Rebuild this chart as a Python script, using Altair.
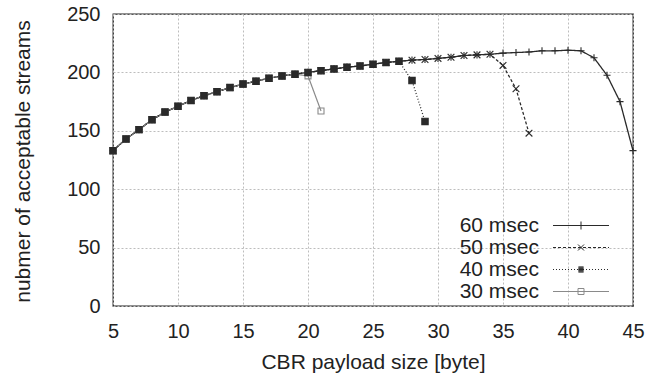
import altair as alt
import pandas as pd

FONT = "Liberation Sans"

series_names = ["60 msec", "50 msec", "40 msec", "30 msec"]
x_ticks = [5, 10, 15, 20, 25, 30, 35, 40, 45]
y_ticks = [0, 50, 100, 150, 200, 250]

payload = list(range(5, 46))
streams_60 = [133, 143, 151, 159.5, 166, 171, 176, 180, 183.5, 187,
              190, 192.5, 195, 197, 198.5, 200, 201.5, 203, 204.5, 205.5,
              207, 208.5, 209.5, 210.5, 211, 212, 213, 214.5, 215, 215.5,
              216.5, 217, 217.5, 218.5, 218.5, 219, 218.5, 212.5, 197.5, 175,
              133]
streams_50 = streams_60[:30] + [206, 186, 148]
streams_40 = streams_60[:23] + [193, 158]
streams_30 = streams_60[:15] + [197, 167]

rows = []
for name, ys in [("60 msec", streams_60), ("50 msec", streams_50),
                 ("30 msec", streams_30), ("40 msec", streams_40)]:
    for xv, yv in zip(payload, ys):
        rows.append({"series": name, "x": xv, "y": yv})
df = pd.DataFrame(rows)

# ---- legend sample symbols (line sample + marker); path units are R px each
R = 5.0          # sqrt(symbolSize) / 2
HALF = 28.0      # half length of the line sample, px


def px(v):
    return f"{v / R:.3f}"


def solid():
    return f"M{px(-HALF)},0H{px(HALF)}"


def dashed(dash, gap):
    parts, pos = [], -HALF
    while pos < HALF:
        end = min(pos + dash, HALF)
        parts.append(f"M{px(pos)},0H{px(end)}")
        pos = end + gap
    return "".join(parts)


plus_mark = f"M0,{px(-4)}V{px(4)}"
cross_mark = f"M{px(-3)},{px(-3)}L{px(3)},{px(3)}M{px(3)},{px(-3)}L{px(-3)},{px(3)}"
filled_sq = "".join(f"M{px(-2.6)},{px(v)}H{px(2.6)}" for v in [-2.6, -1.7, -0.85, 0, 0.85, 1.7, 2.6])
hollow_sq = f"M{px(-3)},{px(-3)}H{px(3)}V{px(3)}H{px(-3)}Z"
legend_paths = [
    solid() + plus_mark,
    dashed(3, 2) + cross_mark,
    dashed(1, 2) + filled_sq,
    solid() + hollow_sq,
]

line_colors = ["#2a2a2a", "#2a2a2a", "#2a2a2a", "#8a8a8a"]

grid_style = dict(grid=True, gridColor="#bdbdbd", gridDash=[2, 2], gridWidth=1, gridOpacity=1)

x_enc = alt.X(
    "x:Q",
    scale=alt.Scale(domain=[5, 45], nice=False, zero=False),
    axis=alt.Axis(values=x_ticks, title="CBR payload size [byte]", format="d",
                  ticks=False, tickSize=0, domain=False, labelFlush=False,
                  labelFont=FONT, labelFontSize=20, labelColor="#222",
                  labelBaseline="alphabetic", labelPadding=31,
                  titleFont=FONT, titleFontSize=21, titleFontWeight="normal",
                  titleColor="#222", titleX=260, titleY=62,
                  titleBaseline="alphabetic", titleAlign="center", **grid_style),
)
y_enc = alt.Y(
    "y:Q",
    scale=alt.Scale(domain=[0, 250], nice=False),
    axis=alt.Axis(values=y_ticks, title="nubmer of acceptable streams",
                  ticks=False, tickSize=0, domain=False, labelFlush=False,
                  labelFont=FONT, labelFontSize=20, labelColor="#222",
                  labelPadding=13,
                  titleFont=FONT, titleFontSize=21, titleFontWeight="normal",
                  titleColor="#222", titleAngle=270, titleX=-84, titleY=147,
                  titleBaseline="alphabetic", titleAlign="center", **grid_style),
)

lines = alt.Chart(df).mark_line(interpolate="linear").encode(
    x=x_enc,
    y=y_enc,
    detail="series:N",
    color=alt.Color("series:N", scale=alt.Scale(domain=series_names, range=line_colors), legend=None),
    strokeDash=alt.StrokeDash("series:N", scale=alt.Scale(domain=series_names,
                              range=[[1, 0], [3, 2], [1, 2], [1, 0]]), legend=None),
    strokeWidth=alt.StrokeWidth("series:N", scale=alt.Scale(domain=series_names,
                                range=[1.3, 1.2, 1.5, 0.9]), legend=None),
)

points = alt.Chart(df).mark_point(filled=False, strokeWidth=1.1, opacity=1).encode(
    x="x:Q",
    y="y:Q",
    shape=alt.Shape("series:N", scale=alt.Scale(domain=series_names,
                    range=["M-1,0H1M0,-1V1", "M-1,-1L1,1M1,-1L-1,1", "square", "square"]),
                    legend=None),
    color=alt.Color("series:N", scale=alt.Scale(domain=series_names, range=line_colors), legend=None),
    fill=alt.Fill("series:N", scale=alt.Scale(domain=series_names,
                  range=["transparent", "transparent", "#2a2a2a", "transparent"]), legend=None),
    size=alt.Size("series:N", scale=alt.Scale(domain=series_names, range=[50, 36, 38, 45]), legend=None),
)

leg = alt.Legend(title=None, orient="none", legendX=457.5, legendY=201,
                 symbolSize=100, symbolStrokeWidth=1, symbolOpacity=1,
                 labelFont=FONT, labelFontSize=21, labelColor="#222",
                 labelAlign="right", labelOffset={"expr": "-52.5"},
                 rowPadding=0, padding=0)

legend_layer = alt.Chart(df).transform_filter("datum.x < 0").mark_point(
    filled=False, size=100, strokeWidth=1, opacity=1).encode(
    x="x:Q",
    y="y:Q",
    shape=alt.Shape("series:N", scale=alt.Scale(domain=series_names, range=legend_paths), legend=leg),
    color=alt.Color("series:N", scale=alt.Scale(domain=series_names, range=line_colors), legend=leg),
)

chart = alt.layer(lines, points, legend_layer).resolve_scale(
    shape="independent", color="independent"
).properties(
    width=520, height=292,
    autosize=alt.AutoSizeParams(type="none"),
    padding={"left": 113, "top": 14, "right": 19, "bottom": 70},
    background="white",
).configure_view(stroke="#222", strokeWidth=1.3)

chart.save("out.html", embed_options={"renderer": "svg", "actions": False})
